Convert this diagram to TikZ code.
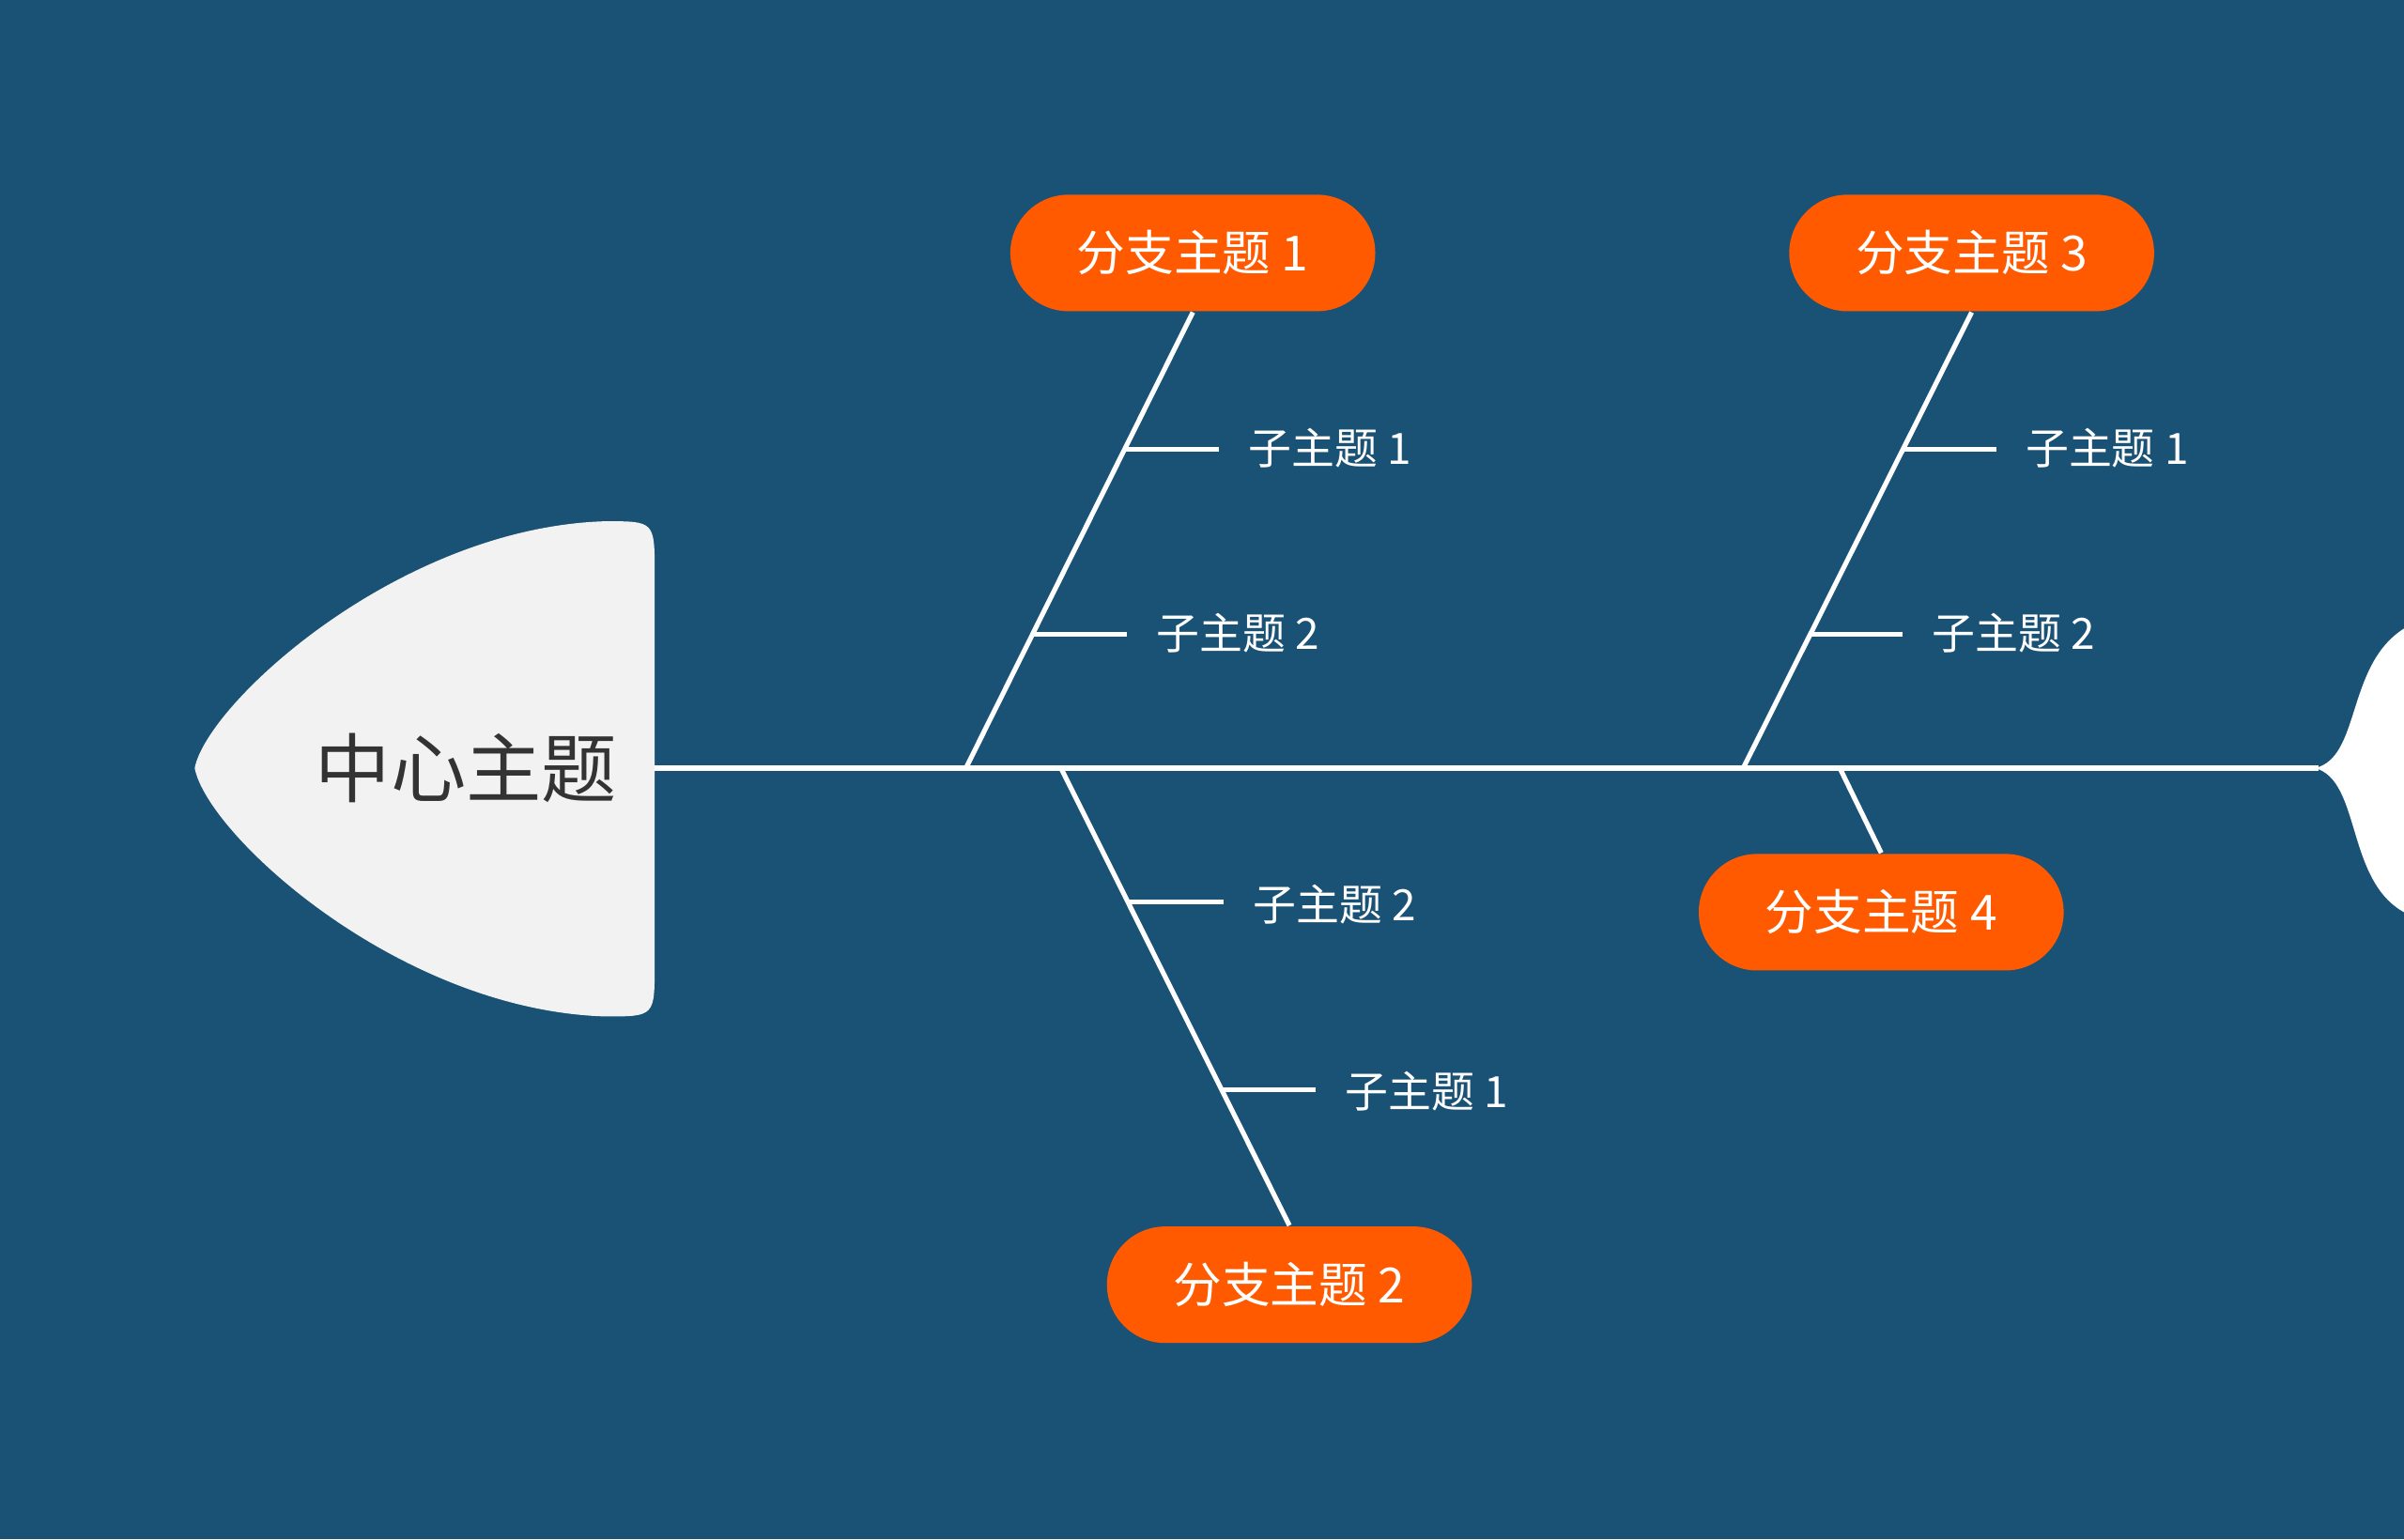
\documentclass[tikz,border=0pt]{standalone}
\usepackage{fontspec}
\setmainfont{Noto Sans CJK SC}
\usetikzlibrary{calc}
\definecolor{bgblue}{RGB}{26,82,118}
\definecolor{branchorange}{RGB}{255,90,0}
\definecolor{headgray}{RGB}{242,242,242}
\tikzset{
  branch/.style={fill=branchorange, text=white, rounded corners=0.38cm,
    minimum width=2.38cm, minimum height=0.76cm, font=\fontsize{9}{11}\selectfont},
  subtopic/.style={text=white, anchor=west, inner sep=1pt, font=\fontsize{8}{10}\selectfont},
  bone/.style={white, line width=0.9pt},
}
\begin{document}
\begin{tikzpicture}
    \fill[bgblue] (0,0) rectangle (15.68,10.04);
    \useasboundingbox (0,0) rectangle (15.68,10.04);

    % head and tail
    \fill[headgray] (1.27,5.03) .. controls (1.35,5.45) and (2.6,6.6) .. (3.95,6.64)
        .. controls (4.27,6.64) .. (4.27,6.3) -- (4.27,3.75)
        .. controls (4.27,3.41) .. (3.95,3.41)
        .. controls (2.6,3.45) and (1.35,4.6) .. cycle;
    \node[text=black!80, anchor=east, font=\fontsize{14}{16}\selectfont] (center) at (4.15,5.03) {中心主题};
    \fill[white] (15.1,5.03) .. controls (15.4,5.1) and (15.3,5.7) .. (15.68,5.94)
        -- (15.68,4.09) .. controls (15.3,4.3) and (15.4,4.95) .. cycle;

    \coordinate (spineL) at (4.27,5.03);
    \coordinate (spineR) at (15.12,5.03);
    \draw[bone] (spineL) -- (spineR);

    % branches
    \node[branch] (b1) at (7.78,8.39) {分支主题 1};
    \node[branch] (b3) at (12.86,8.39) {分支主题 3};
    \node[branch] (b2) at (8.41,1.66) {分支主题 2};
    \node[branch] (b4) at (12.27,4.09) {分支主题 4};

    \coordinate (r1) at (6.3,5.03);
    \coordinate (r3) at (11.37,5.03);
    \coordinate (r2) at (6.92,5.03);
    \coordinate (r4) at (12.0,5.03);

    \draw[bone] (b1.south) -- (r1);
    \draw[bone] (b3.south) -- (r3);
    \draw[bone] (b2.north) -- (r2);
    \draw[bone] (b4.north) -- (r4);

    % sub topics
    \node[subtopic] (s11) at (8.1,7.12) {子主题 1};
    \node[subtopic] (s12) at (7.5,5.91) {子主题 2};
    \node[subtopic] (s31) at (13.17,7.12) {子主题 1};
    \node[subtopic] (s32) at (12.56,5.91) {子主题 2};
    \node[subtopic] (s22) at (8.13,4.14) {子主题 2};
    \node[subtopic] (s21) at (8.73,2.92) {子主题 1};

    \coordinate (j11) at ($(b1.south)!0.30!(r1)$);
    \coordinate (j12) at ($(b1.south)!0.707!(r1)$);
    \coordinate (j31) at ($(b3.south)!0.30!(r3)$);
    \coordinate (j32) at ($(b3.south)!0.707!(r3)$);
    \coordinate (j22) at ($(r2)!0.293!(b2.north)$);
    \coordinate (j21) at ($(r2)!0.704!(b2.north)$);

    \draw[bone] (j11) -- ([xshift=-0.15cm]j11 -| s11.west);
    \draw[bone] (j12) -- ([xshift=-0.15cm]j12 -| s12.west);
    \draw[bone] (j31) -- ([xshift=-0.15cm]j31 -| s31.west);
    \draw[bone] (j32) -- ([xshift=-0.15cm]j32 -| s32.west);
    \draw[bone] (j22) -- ([xshift=-0.15cm]j22 -| s22.west);
    \draw[bone] (j21) -- ([xshift=-0.15cm]j21 -| s21.west);
\end{tikzpicture}
\end{document}
